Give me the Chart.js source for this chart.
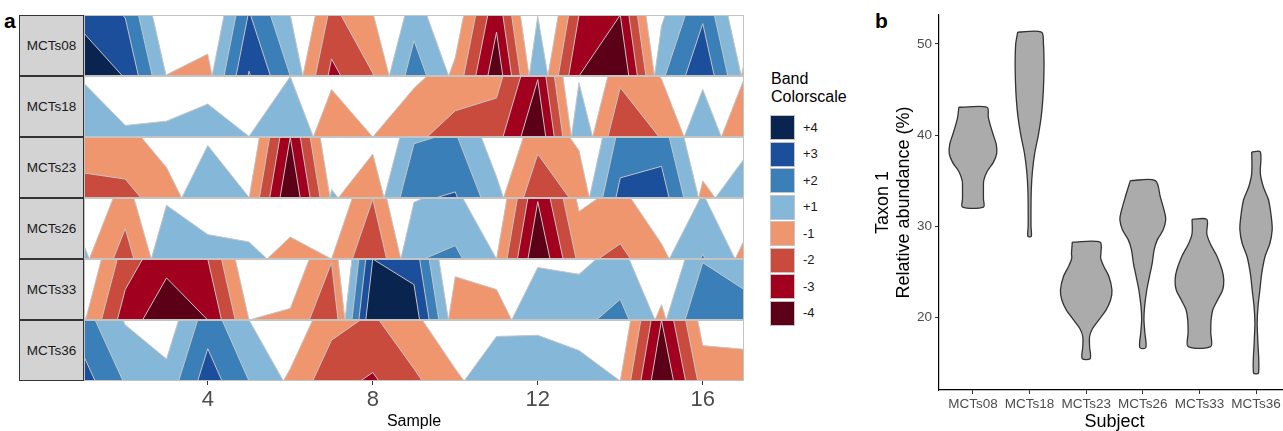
<!DOCTYPE html>
<html>
<head>
<meta charset="utf-8">
<script src="https://cdn.jsdelivr.net/npm/chart.js@4"></script>
<style>
  html, body { margin: 0; padding: 0; overflow: hidden; background: #fff; }
  body { width: 1283px; height: 431px; position: relative; font-family: "Liberation Sans", Arial, sans-serif; }
  canvas { position: absolute; }
  .strip { position: absolute; left: 19px; width: 65px; height: 61px; box-sizing: border-box;
           background: #d3d3d3; border: 1px solid #333; font-size: 13.5px; color: #1a1a1a;
           display: flex; align-items: center; justify-content: center; }
  .tag { position: absolute; font-weight: bold; font-size: 21px; color: #000; }
  .legTitle { position: absolute; left: 771px; top: 70px; font-size: 16px; line-height: 18px; color: #000; }
  .key { position: absolute; left: 770px; width: 25px; height: 25px; box-sizing: border-box; border: 1.5px solid #c4c4c4; }
  .keyLab { position: absolute; left: 803px; font-size: 13px; color: #1a1a1a; line-height: 16px; }
</style>
</head>
<body>
<div class="tag" style="left:4px; top:9px;">a</div>
<div class="tag" style="left:875px; top:9px;">b</div>
<div id="strips"></div>
<div id="rows"></div>
<div class="legTitle">Band<br>Colorscale</div>
<div id="legend"></div>
<canvas id="violin" width="420" height="431" style="left:870px; top:0px;"></canvas>

<script>
Chart.defaults.font.family = '"Liberation Sans", Arial, sans-serif';
Chart.defaults.animation = false;

// Horizon plot data (value in band units, per sample)
const samples = [1, 2, 3, 4, 5, 6, 7, 8, 9, 10, 11, 12, 13, 14, 15, 16, 17];
const subjects = ['MCTs08', 'MCTs18', 'MCTs23', 'MCTs26', 'MCTs33', 'MCTs36'];
const band08 = [3.7, 2.95, -0.02, -0.36, 3.08, 1.0, -2.28, -1.05, 1.58, -0.3, -3.72, 0.98, -3.0, -4.0, 0.82, 2.86, -0.2];
const band18 = [0.88, 0.19, 0.26, 0.54, 0.01, 0.99, -0.78, 0.0, -0.8, -1.43, -1.64, -3.94, 0.89, -1.81, -0.95, 0.78, -0.95];
const band23 = [-1.41, -1.31, -0.5, 0.86, 0.01, -4.0, 0.14, -0.72, 1.89, 2.1, 0.35, -1.72, -0.78, 2.33, 2.52, -0.28, 0.64];
const band26 = [0.22, -1.5, 0.88, 0.4, 0.28, -0.36, 0.0, -1.98, 0.93, 1.22, 0.0, -3.94, -0.78, -1.25, -0.25, 1.08, -0.3];
const band33 = [0.1, -2.5, -3.69, -3.0, 0.0, -0.19, -1.94, 4.0, 3.58, -0.71, -0.5, 0.86, 0.75, 1.34, -0.25, 1.94, 1.5];
const band36 = [2.4, 0.92, 0.36, 2.53, 1.0, -0.2, -1.67, -2.14, -1.2, -0.2, 0.73, 0.75, 0.5, 0.0, -4.0, -0.58, -0.52];
const horizonRows = [band08, band18, band23, band26, band33, band36];
const sampleTicks = [4, 8, 12, 16];

const bandLabels = ['+4', '+3', '+2', '+1', '-1', '-2', '-3', '-4'];
const posColors = ['#85b8d8', '#3b7fb8', '#1b4e9b', '#08244f'];   // +1..+4
const negColors = ['#f0966f', '#c94b3d', '#a1001e', '#5c0018'];   // -1..-4

// Violin outlines: levels (%) and half widths (category units)
const vio08Lv = [43.05, 42, 41, 40, 39, 38, 37, 36, 35, 34, 33, 32.1];
const vio08Hw = [0.25, 0.27, 0.31, 0.36, 0.41, 0.42, 0.36, 0.25, 0.19, 0.185, 0.185, 0.185];
const vio18Lv = [51.3, 50, 48, 46, 44, 42, 40, 38, 36, 34, 32, 30, 28.9];
const vio18Hw = [0.21, 0.245, 0.255, 0.25, 0.235, 0.205, 0.155, 0.09, 0.05, 0.03, 0.025, 0.025, 0.03];
const vio23Lv = [28.25, 27, 26.5, 25.6, 24.5, 23, 21.9, 20.8, 19.7, 18.8, 17.9, 16.8, 15.47];
const vio23Hw = [0.245, 0.26, 0.255, 0.31, 0.40, 0.455, 0.43, 0.35, 0.22, 0.115, 0.06, 0.06, 0.07];
const vio26Lv = [35.0, 33.2, 31.4, 30.7, 29.6, 28.5, 27.4, 25.9, 24.5, 23.0, 21.2, 19.8, 18.4, 16.68];
const vio26Hw = [0.22, 0.31, 0.39, 0.405, 0.36, 0.256, 0.2, 0.165, 0.118, 0.07, 0.032, 0.02, 0.035, 0.053];
const vio33Lv = [30.75, 29.2, 28.1, 26.7, 25.2, 24.1, 23.0, 21.9, 20.8, 19.7, 18.3, 16.8];
const vio33Hw = [0.13, 0.13, 0.19, 0.31, 0.40, 0.43, 0.41, 0.32, 0.235, 0.206, 0.2, 0.2];
const vio36Lv = [38.15, 35.8, 34.3, 32.9, 31.0, 29.6, 28.1, 26.7, 24.8, 23.0, 21.2, 19.4, 17.6, 13.9];
const vio36Hw = [0.076, 0.076, 0.13, 0.22, 0.27, 0.285, 0.244, 0.16, 0.1, 0.068, 0.035, 0.02, 0.03, 0.045];
const vioLevels = [vio08Lv, vio18Lv, vio23Lv, vio26Lv, vio33Lv, vio36Lv];
const vioWidths = [vio08Hw, vio18Hw, vio23Hw, vio26Hw, vio33Hw, vio36Hw];
const abundanceTicks = [20, 30, 40, 50];

// ---- panel a: one chart per subject row ----
const rowTop = 15, rowH = 61;
const panelBorder = {
  id: 'panelBorder',
  afterDatasetsDraw(chart) {
    const a = chart.chartArea, ctx = chart.ctx;
    ctx.save();
    ctx.strokeStyle = '#c4c4c4';
    ctx.lineWidth = 1;
    ctx.strokeRect(a.left + 0.5, a.top + 0.5, a.right - a.left - 1, a.bottom - a.top - 1);
    ctx.restore();
  }
};

function bandSet(values, k, sign, color) {
  return {
    data: samples.map((s, i) => ({ x: s, y: sign * values[i] - (k - 1) })),
    fill: 'origin',
    backgroundColor: color,
    borderColor: '#c4c4c4',
    borderWidth: 1,
    pointRadius: 0,
    tension: 0,
    clip: 0
  };
}

subjects.forEach((name, r) => {
  const strip = document.createElement('div');
  strip.className = 'strip';
  strip.style.top = (rowTop + r * rowH) + 'px';
  strip.textContent = name;
  document.getElementById('strips').appendChild(strip);

  const last = r === subjects.length - 1;
  const cv = document.createElement('canvas');
  cv.width = 660;
  cv.height = last ? 431 - (rowTop + r * rowH) : rowH;
  cv.style.left = '84px';
  cv.style.top = (rowTop + r * rowH) + 'px';
  document.getElementById('rows').appendChild(cv);

  const values = horizonRows[r];
  const datasets = [];
  for (let k = 4; k >= 1; k--) {
    datasets.push(bandSet(values, k, 1, posColors[k - 1]));
    datasets.push(bandSet(values, k, -1, negColors[k - 1]));
  }

  const xScale = { type: 'linear', min: 1, max: 17, display: false };
  if (last) {
    Object.assign(xScale, {
      display: true,
      afterBuildTicks: s => { s.ticks = sampleTicks.map(v => ({ value: v })); },
      afterFit: s => { s.height = 50; },
      grid: { drawOnChartArea: false, tickLength: 4, color: '#333', lineWidth: 1 },
      border: { display: false },
      ticks: { font: { size: 22 }, color: '#4d4d4d', padding: 2, maxRotation: 0 },
      title: { display: true, text: 'Sample', font: { size: 16, lineHeight: 1.2 }, color: '#000', padding: { top: 0, bottom: 0 } }
    });
  }

  new Chart(cv, {
    type: 'line',
    data: { datasets },
    options: {
      responsive: false,
      layout: { padding: 0 },
      plugins: { legend: { display: false }, tooltip: { enabled: false } },
      scales: {
        x: xScale,
        y: { min: 0, max: 1, display: false }
      }
    },
    plugins: [panelBorder]
  });
});

// legend
bandLabels.forEach((lab, i) => {
  const top = 115 + i * 26.5;
  const key = document.createElement('div');
  key.className = 'key';
  key.style.top = top + 'px';
  key.style.background = i < 4 ? posColors[3 - i] : negColors[i - 4];
  const t = document.createElement('div');
  t.className = 'keyLab';
  t.style.top = (top + 4.5) + 'px';
  t.textContent = lab;
  const lg = document.getElementById('legend');
  lg.appendChild(key);
  lg.appendChild(t);
});

// ---- panel b: violins ----
const violinSets = subjects.map((name, i) => {
  const c = i + 1, lv = vioLevels[i], hw = vioWidths[i];
  const pts = [{ x: c - hw[0], y: lv[0] }];
  for (let j = 0; j < lv.length; j++) pts.push({ x: c + hw[j], y: lv[j] });
  for (let j = lv.length - 1; j >= 0; j--) pts.push({ x: c - hw[j], y: lv[j] });
  return {
    label: name, data: pts, fill: 'shape',
    backgroundColor: '#ababab', borderColor: '#333', borderWidth: 1.3,
    pointRadius: 0, tension: 0.3
  };
});

new Chart(document.getElementById('violin'), {
  type: 'line',
  data: { datasets: violinSets },
  options: {
    responsive: false,
    layout: { padding: { top: 15, left: 0, right: 0, bottom: 0 } },
    plugins: { legend: { display: false }, tooltip: { enabled: false } },
    scales: {
      x: {
        type: 'linear', min: 0.4, max: 6.6,
        afterBuildTicks: s => { s.ticks = subjects.map((n, i) => ({ value: i + 1 })); },
        afterFit: s => { s.height = 41; },
        grid: { drawOnChartArea: false, tickLength: 4, color: '#333' },
        border: { display: true, color: '#000', width: 1.2 },
        ticks: { font: { size: 13.5 }, color: '#4d4d4d', padding: 2, maxRotation: 0,
                 callback: v => subjects[Math.round(v) - 1] },
        title: { display: true, text: 'Subject', font: { size: 18, lineHeight: 1 }, color: '#000', padding: { top: 0, bottom: 0 } }
      },
      y: {
        type: 'linear', min: 12.03, max: 53.17,
        afterBuildTicks: s => { s.ticks = abundanceTicks.map(v => ({ value: v })); },
        afterFit: s => { s.width = 69; },
        grid: { drawOnChartArea: false, tickLength: 4, color: '#333' },
        border: { display: true, color: '#000', width: 1.2 },
        ticks: { font: { size: 13.5 }, color: '#4d4d4d', padding: 3 },
        title: { display: true, text: ['Taxon 1', 'Relative abundance (%)'], font: { size: 18, lineHeight: 1.15 },
                 color: '#000', padding: { top: 3, bottom: 0 } }
      }
    }
  }
});
</script>
</body>
</html>
